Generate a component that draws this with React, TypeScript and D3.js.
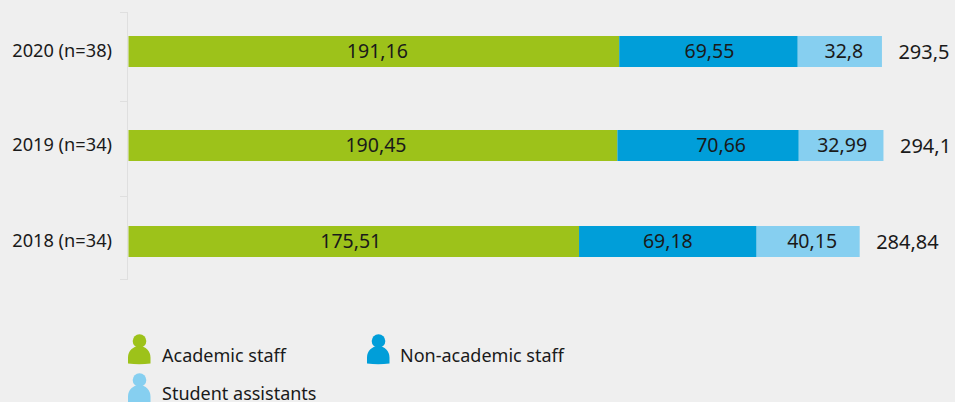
import React from "react";
import * as d3 from "d3";

const categories = ["2020 (n=38)", "2019 (n=34)", "2018 (n=34)"];
const academic = [191.16, 190.45, 175.51];
const nonAcademic = [69.55, 70.66, 69.18];
const students = [32.8, 32.99, 40.15];
const totals = [293.5, 294.1, 284.84];
const seriesNames = ["Academic staff", "Non-academic staff", "Student assistants"];
const colors = ["#9dc21a", "#009ed9", "#86cff0"];
const barTops = [36, 130, 226];
const axisTicks = [12.5, 101.5, 196.5, 279.5];
const labelNudges = [
  [3.5, 3, -3],
  [1, 13, 0],
  [4, 1, 4],
];

const FONT = "'Noto Sans', 'Open Sans', sans-serif";
const TEXT = "#1a1a1a";
const BG = "#efefef";
const fmt = (v: number) => String(v).replace(".", ",");

const x = d3.scaleLinear().domain([0, 100]).range([128.5, 128.5 + 256.7]);
const y = d3.scaleOrdinal<string, number>().domain(categories).range(barTops);
const barH = 31;
const seriesValues = [academic, nonAcademic, students];
const stack = d3
  .stack<number>()
  .keys(["0", "1", "2"])
  .value((i, k) => seriesValues[+k][i]);
const layers = stack(categories.map((_, i) => i));

const legendItems = [
  { x: 128, y: 334, i: 0, tx: 162, ty: 362 },
  { x: 367, y: 334, i: 1, tx: 400, ty: 362 },
  { x: 128, y: 373, i: 2, tx: 162, ty: 400 },
];

function Person({ px, py, color }: { px: number; py: number; color: string }) {
  const body = `M${px} ${py + 29.5} v-6 a11.5 11.5 0 0 1 11.5 -11.5 h0 a11.5 11.5 0 0 1 11 11.5 v6 q-11.2 1.5 -22.5 0 z`;
  return (
    <g fill={color}>
      <circle cx={px + 11.5} cy={py + 7} r={6.8} />
      <path d={body} />
    </g>
  );
}

export default function App() {
  return (
    <svg
      width={955}
      height={402}
      style={{ position: "absolute", left: 0, top: 0, background: BG, fontFamily: FONT }}
    >
      <rect width={955} height={402} fill={BG} />
      <g stroke="#dfdfdf" strokeWidth={1} fill="none">
        <line x1={127.5} x2={127.5} y1={12.5} y2={279.5} />
        {axisTicks.map((t) => (
          <line key={t} x1={120} x2={128} y1={t} y2={t} />
        ))}
      </g>
      {categories.map((c) => (
        <text key={c} x={112} y={y(c)! + 14.5} dy="0.35em" textAnchor="end" fontSize={18.2} fill={TEXT}>
          {c}
        </text>
      ))}
      {layers.map((layer, s) => (
        <g key={s}>
          {layer.map((d, i) => (
            <g key={i}>
              <rect
                x={x(d[0])}
                y={y(categories[i])}
                width={x(d[1]) - x(d[0])}
                height={barH}
                fill={colors[s]}
              />
              <text
                x={(x(d[0]) + x(d[1])) / 2 + labelNudges[s][i]}
                y={y(categories[i])! + 15.5}
                dy="0.35em"
                textAnchor="middle"
                fontSize={19.5}
                fill={TEXT}
              >
                {fmt(seriesValues[s][i])}
              </text>
            </g>
          ))}
        </g>
      ))}
      {categories.map((c, i) => (
        <text key={c} x={x(totals[i]) + 16.5} y={y(c)! + 15.5} dy="0.35em" fontSize={20} fill={TEXT}>
          {fmt(totals[i])}
        </text>
      ))}
      {legendItems.map((l) => (
        <g key={l.i}>
          <Person px={l.x} py={l.y} color={colors[l.i]} />
          <text x={l.tx} y={l.ty} fontSize={18} fill={TEXT}>
            {seriesNames[l.i]}
          </text>
        </g>
      ))}
    </svg>
  );
}
